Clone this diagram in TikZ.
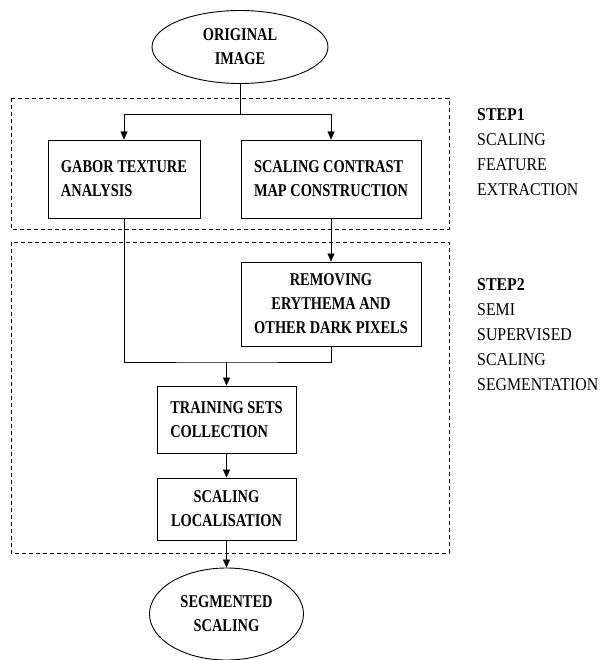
\documentclass[tikz,border=0pt]{standalone}
\usepackage{fontspec}
\setmainfont{Liberation Serif}[FakeStretch=0.8]
\newfontfamily\sidefont{Liberation Serif}[FakeStretch=0.88]
\usepackage{tikz}
\usetikzlibrary{arrows.meta,positioning,calc,shapes.geometric}

\begin{document}
\begin{tikzpicture}[x=1pt,y=-1pt,>={Triangle[length=8pt,width=7pt]},
  every node/.style={font=\fontsize{18}{24}\selectfont},
  term/.style={draw,ellipse,line width=0.9pt,inner sep=0pt,align=center,font=\fontsize{18}{24}\selectfont\bfseries},
  proc/.style={draw,rectangle,line width=0.9pt,inner sep=0pt,font=\fontsize{18}{24}\selectfont\bfseries},
  stage/.style={draw,dash pattern=on 4pt off 3pt,line width=0.8pt},
  steptext/.style={anchor=north west,inner sep=0pt,align=left,font=\sidefont\fontsize{18}{25}\selectfont}]
  \useasboundingbox (0,0) rectangle (599,660);
  \draw[stage] (11,98) rectangle (449,229); % 第1段階
  \draw[stage] (11,242) rectangle (449,553); % 第2段階
  \node[term,minimum width=176pt,minimum height=73pt] (orig) at (240,47) {ORIGINAL\\IMAGE};
  \node[proc,minimum width=152pt,minimum height=78pt,align=left] (gabor) at (124,179) {GABOR TEXTURE\\ANALYSIS};
  \node[proc,minimum width=180pt,minimum height=78pt,align=left] (contrast) at (331,179) {SCALING CONTRAST\\MAP CONSTRUCTION};
  \node[proc,minimum width=180pt,minimum height=84pt,align=center] (remove) at (331,304) {REMOVING\\ERYTHEMA AND\\OTHER DARK PIXELS};
  \node[proc,minimum width=139pt,minimum height=67pt,align=left] (train) at (226.5,419.5) {TRAINING SETS\\COLLECTION};
  \node[proc,minimum width=139pt,minimum height=62pt,align=center] (local) at (226.5,509) {SCALING\\LOCALISATION};
  \node[term,minimum width=154pt,minimum height=92pt] (seg) at (226.5,614) {SEGMENTED\\SCALING};
  \coordinate (split) at (240,114); % 分岐点
  \coordinate (merge) at (226.5,362); % 合流点
  \draw (orig) -- (split);
  \draw[->] (split) -| (gabor);
  \draw[->] (split) -| (contrast);
  \draw[->] (contrast) -- (remove);
  \draw (gabor) |- (merge) -| (remove);
  \draw[->] (merge) -- (train);
  \draw[->] (train) -- (local);
  \draw[->] (local) -- (seg);
  \node[steptext] (step1) at (477,108) {\textbf{STEP1}\\SCALING\\FEATURE\\EXTRACTION};
  \node[steptext] (step2) at (477,278) {\textbf{STEP2}\\SEMI\\SUPERVISED\\SCALING\\SEGMENTATION};
\end{tikzpicture}
\end{document}
